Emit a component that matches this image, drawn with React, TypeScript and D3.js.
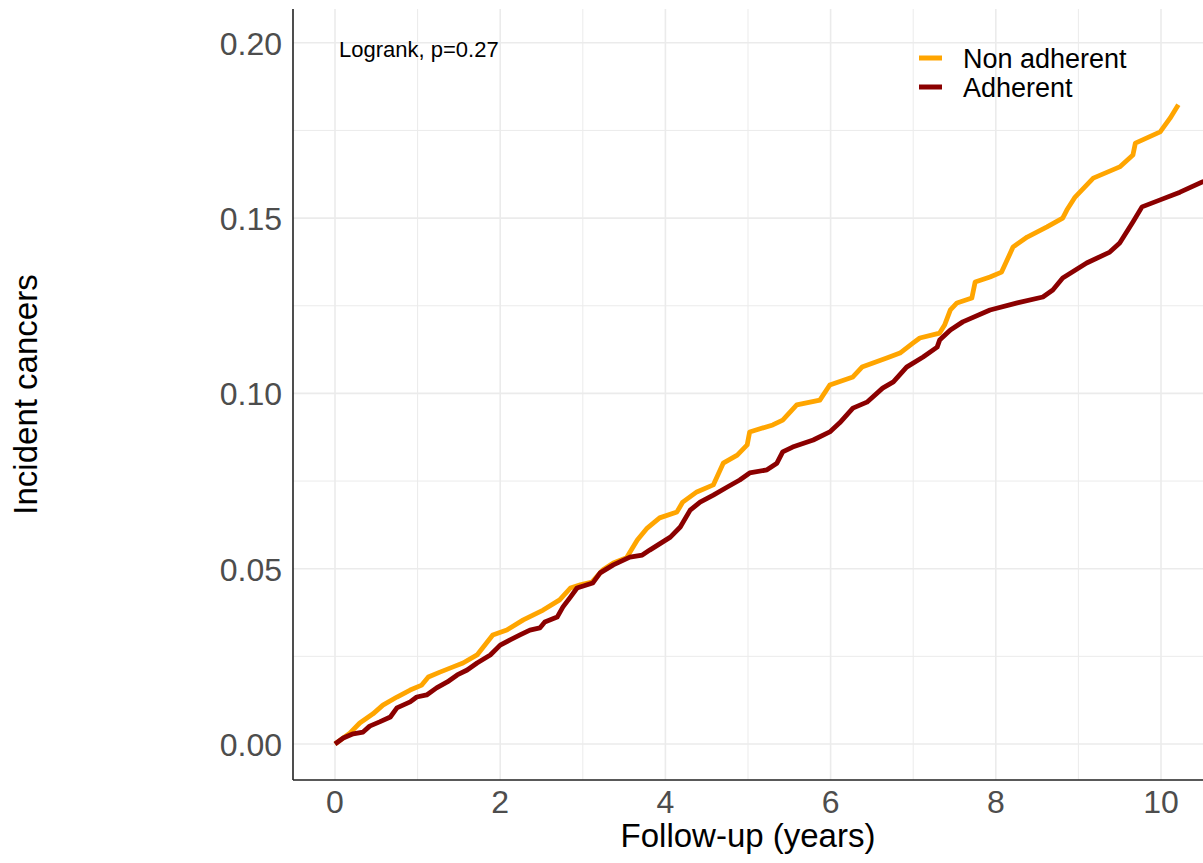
import React from "react";
import * as d3 from "d3";

const width = 1203;
const height = 863;
// panel edges (the right side runs off the picture, like the reference)
const panel = { left: 293, top: 9, bottom: 780, right: 1250 };

const xTicks = [0, 2, 4, 6, 8, 10];
const xMinor = [1, 3, 5, 7, 9];
const yTicks = [0, 0.05, 0.1, 0.15, 0.2];
const yMinor = [0.025, 0.075, 0.125, 0.175];

const seriesNames = ["Non adherent", "Adherent"];
const seriesColors = ["#FFA500", "#8B0000"];

// cumulative incidence
const nonAdherentTime = [
  0, 0.18, 0.3, 0.46, 0.58, 0.75, 0.91, 1.05, 1.13, 1.27, 1.43, 1.55, 1.72,
  1.91, 2.08, 2.28, 2.52, 2.72, 2.85, 2.97, 3.11, 3.24, 3.37, 3.53, 3.66, 3.78,
  3.93, 4.14, 4.21, 4.38, 4.58, 4.7, 4.87, 4.99, 5.02, 5.3, 5.42, 5.59, 5.87,
  5.99, 6.27, 6.38, 6.68, 6.84, 7.0, 7.08, 7.32, 7.38, 7.45, 7.53, 7.71, 7.75,
  7.93, 8.07, 8.21, 8.38, 8.62, 8.81, 8.86, 8.96, 9.18, 9.5, 9.66, 9.69, 9.99,
  10.11, 10.21,
];
const nonAdherentValue = [
  0, 0.0031, 0.006, 0.0086, 0.0111, 0.0134, 0.0154, 0.0168, 0.0191, 0.0205,
  0.022, 0.0231, 0.0254, 0.0311, 0.0325, 0.0354, 0.0382, 0.0411, 0.0445,
  0.0454, 0.0462, 0.0496, 0.0516, 0.0531, 0.0582, 0.0616, 0.0645, 0.0662,
  0.069, 0.0719, 0.0739, 0.0801, 0.0824, 0.0853, 0.089, 0.091, 0.0924, 0.0967,
  0.0981, 0.1024, 0.1047, 0.1075, 0.1101, 0.1115, 0.1144, 0.1158, 0.1172,
  0.1195, 0.1238, 0.1258, 0.1272, 0.1318, 0.1332, 0.1346, 0.1418, 0.1446,
  0.1475, 0.15, 0.1523, 0.156, 0.1614, 0.1646, 0.168, 0.1714, 0.1746, 0.1785,
  0.1823,
];
const adherentTime = [
  0, 0.1, 0.22, 0.34, 0.42, 0.54, 0.67, 0.75, 0.91, 0.99, 1.11, 1.23, 1.36,
  1.48, 1.6, 1.72, 1.88, 2.0, 2.12, 2.24, 2.36, 2.48, 2.54, 2.69, 2.76, 2.85,
  2.93, 3.12, 3.21, 3.37, 3.57, 3.72, 3.81, 4.06, 4.18, 4.3, 4.42, 4.58, 4.75,
  4.9, 5.02, 5.23, 5.35, 5.42, 5.54, 5.79, 5.99, 6.11, 6.27, 6.44, 6.63, 6.76,
  6.92, 7.12, 7.29, 7.32, 7.45, 7.6, 7.93, 8.26, 8.57, 8.69, 8.81, 9.1, 9.38,
  9.5, 9.66, 9.77, 9.99, 10.23, 10.5, 10.7,
];
const adherentValue = [
  0, 0.0017, 0.0029, 0.0034, 0.0051, 0.0063, 0.0077, 0.0103, 0.012, 0.0134,
  0.014, 0.016, 0.0177, 0.0197, 0.0211, 0.0231, 0.0254, 0.0282, 0.0297,
  0.0311, 0.0325, 0.0331, 0.0348, 0.0362, 0.0391, 0.0419, 0.0445, 0.0459,
  0.0488, 0.0511, 0.0533, 0.0539, 0.0553, 0.059, 0.0619, 0.0667, 0.069, 0.071,
  0.0733, 0.0753, 0.0773, 0.0782, 0.0801, 0.0833, 0.0847, 0.0867, 0.089,
  0.0916, 0.0958, 0.0975, 0.1015, 0.1033, 0.1075, 0.1104, 0.1132, 0.1152,
  0.1181, 0.1204, 0.1238, 0.1258, 0.1275, 0.1295, 0.1329, 0.1372, 0.1403,
  0.1429, 0.1489, 0.1532, 0.1552, 0.1574, 0.1603, 0.162,
];

const font = "'Liberation Sans', Arial, sans-serif";

const xScale = d3.scaleLinear().domain([0, 10]).range([335, 1161]);
const yScale = d3.scaleLinear().domain([0, 0.2]).range([744, 42.8]);

export default function App() {
  const series = [
    d3.zip(nonAdherentTime, nonAdherentValue),
    d3.zip(adherentTime, adherentValue),
  ];
  const line = d3
    .line<number[]>()
    .x((d) => xScale(d[0]))
    .y((d) => yScale(d[1]));

  return (
    <svg
      width={width}
      height={height}
      style={{ position: "absolute", left: 0, top: 0, background: "#fff" }}
      fontFamily={font}
    >
      <defs>
        <clipPath id="panel">
          <rect
            x={panel.left}
            y={panel.top}
            width={panel.right - panel.left}
            height={panel.bottom - panel.top}
          />
        </clipPath>
      </defs>

      {/* grid */}
      <g stroke="#ebebeb">
        {xMinor.map((t) => (
          <line key={"xm" + t} x1={xScale(t)} x2={xScale(t)} y1={panel.top} y2={panel.bottom} strokeWidth={1} />
        ))}
        {yMinor.map((t) => (
          <line key={"ym" + t} x1={panel.left} x2={panel.right} y1={yScale(t)} y2={yScale(t)} strokeWidth={1} />
        ))}
        {xTicks.map((t) => (
          <line key={"x" + t} x1={xScale(t)} x2={xScale(t)} y1={panel.top} y2={panel.bottom} strokeWidth={1.6} />
        ))}
        {yTicks.map((t) => (
          <line key={"y" + t} x1={panel.left} x2={panel.right} y1={yScale(t)} y2={yScale(t)} strokeWidth={1.6} />
        ))}
      </g>

      {/* curves */}
      <g clipPath="url(#panel)" fill="none" strokeWidth={4.8} strokeLinejoin="round">
        {series.map((s, i) => (
          <path key={i} d={line(s) || ""} stroke={seriesColors[i]} />
        ))}
      </g>

      {/* axis lines */}
      <g stroke="#222" strokeWidth={1.6}>
        <line x1={panel.left} x2={panel.left} y1={panel.top} y2={panel.bottom} />
        <line x1={panel.left} x2={panel.right} y1={panel.bottom} y2={panel.bottom} />
      </g>

      {/* tick labels */}
      <g fill="#4d4d4d" fontSize={32}>
        {xTicks.map((t) => (
          <text key={t} x={xScale(t)} y={813} textAnchor="middle">
            {d3.format("d")(t)}
          </text>
        ))}
        {yTicks.map((t) => (
          <text key={t} x={282} y={yScale(t) + 12} textAnchor="end">
            {d3.format(".2f")(t)}
          </text>
        ))}
      </g>

      {/* axis titles */}
      <text x={(panel.left + width) / 2} y={847} textAnchor="middle" fontSize={33} fill="#000">
        Follow-up (years)
      </text>
      <text
        transform={`translate(37, ${(panel.top + panel.bottom) / 2}) rotate(-90)`}
        textAnchor="middle"
        fontSize={33}
        fill="#000"
      >
        Incident cancers
      </text>

      {/* annotation */}
      <text x={339} y={57} fontSize={22} fill="#000">
        Logrank, p=0.27
      </text>

      {/* legend */}
      <g fontSize={27} fill="#000">
        {seriesNames.map((name, i) => (
          <g key={name} transform={`translate(919, ${58 + i * 29})`}>
            <line x1={0} x2={23} y1={0} y2={0} stroke={seriesColors[i]} strokeWidth={5} />
            <text x={44} y={9.5}>
              {name}
            </text>
          </g>
        ))}
      </g>
    </svg>
  );
}
